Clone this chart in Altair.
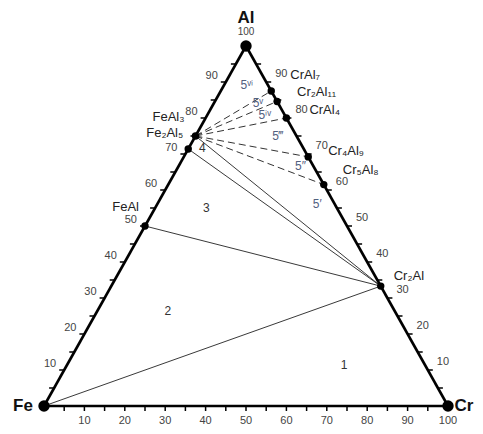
import altair as alt
import pandas as pd

# compositions in at.% (Cr, Al); Fe is the balance
phase_names = ["FeAl", "Fe₂Al₅", "FeAl₃", "CrAl₇", "Cr₂Al₁₁", "CrAl₄", "Cr₄Al₉", "Cr₅Al₈", "Cr₂Al"]
phase_cr = [0.0, 0.0, 0.0, 12.5, 15.4, 20.0, 30.8, 38.5, 66.7]
phase_al = [50.0, 71.4, 75.0, 87.5, 84.6, 80.0, 69.2, 61.5, 33.3]

vertex_names = ["Fe", "Cr", "Al"]
vertex_cr = [0.0, 100.0, 0.0]
vertex_al = [0.0, 0.0, 100.0]

solid_from = ["Fe", "FeAl", "Fe₂Al₅", "FeAl₃"]
solid_to = ["Cr₂Al", "Cr₂Al", "Cr₂Al", "Cr₂Al"]
dashed_from = ["FeAl₃", "FeAl₃", "FeAl₃", "FeAl₃", "FeAl₃"]
dashed_to = ["CrAl₇", "Cr₂Al₁₁", "CrAl₄", "Cr₄Al₉", "Cr₅Al₈"]

region_labels = ["1", "2", "3", "4", "5′", "5″", "5‴", "5ⁱᵛ", "5ᵛ", "5ᵛⁱ"]
region_cr = [68.6, 17.4, 12.7, 3.3, 39.6, 30.2, 20.4, 14.2, 10.8, 5.6]
region_al = [11.3, 26.5, 55.0, 71.8, 56.1, 66.6, 74.9, 80.9, 84.3, 89.2]

tick_values = [5, 10, 15, 20, 25, 30, 35, 40, 45, 50, 55, 60, 65, 70, 75, 80, 85, 90, 95]
side_labels = [10, 20, 30, 40, 50, 60, 70, 80, 90]
bottom_labels = [10, 20, 30, 40, 50, 60, 70, 80, 90, 100]

comp = {n: (c, a) for n, c, a in zip(phase_names + vertex_names,
                                       phase_cr + vertex_cr, phase_al + vertex_al)}

W, H = 404, 360
xs = alt.Scale(domain=[0, 100], nice=False, zero=False)
ys = alt.Scale(domain=[0, 100], nice=False, zero=False)
TX = 5.0 / W * 100   # 5px tick length in x units
TY = 5.0 / H * 100   # 5px tick length in y units


def pos(c="cr", a="al", xn="x", yn="y"):
    return {xn: f"datum.{c} + datum.{a} / 2", yn: f"datum.{a}"}


def X(f="x"):
    return alt.X(f"{f}:Q", scale=xs, axis=None)


def Y(f="y"):
    return alt.Y(f"{f}:Q", scale=ys, axis=None)


def seg_df(froms, tos):
    return pd.DataFrame({
        "cr1": [comp[f][0] for f in froms], "al1": [comp[f][1] for f in froms],
        "cr2": [comp[t][0] for t in tos], "al2": [comp[t][1] for t in tos],
    })


def seg_layer(df, **mk):
    return alt.Chart(df).mark_rule(**mk).transform_calculate(
        x1="datum.cr1 + datum.al1 / 2", y1="datum.al1",
        x2="datum.cr2 + datum.al2 / 2", y2="datum.al2",
    ).encode(x=X("x1"), y=Y("y1"), x2="x2:Q", y2="y2:Q")


edges = seg_df(["Fe", "Cr", "Al"], ["Cr", "Al", "Fe"])
edge_layer = seg_layer(edges, color="black", strokeWidth=2.6)
solid_layer = seg_layer(seg_df(solid_from, solid_to), color="#222", strokeWidth=0.9)
dashed_layer = seg_layer(seg_df(dashed_from, dashed_to), color="#333",
                         strokeWidth=1.0, strokeDash=[7, 4])

# ticks
rows = []
for t in tick_values:
    rows.append({"edge": "bottom", "cr": t, "al": 0})
    rows.append({"edge": "left", "cr": 0, "al": t})
    rows.append({"edge": "right", "cr": 100 - t, "al": t})
ticks = pd.DataFrame(rows)
tick_layer = alt.Chart(ticks).mark_rule(color="black", strokeWidth=1.5).transform_calculate(
    **pos()
).transform_calculate(
    xe=f"datum.edge == 'left' ? datum.x - {TX} : (datum.edge == 'right' ? datum.x + {TX} : datum.x)",
    ye=f"datum.edge == 'bottom' ? datum.y - {TY} : datum.y",
).encode(x=X(), y=Y(), x2="xe:Q", y2="ye:Q")

lab_font = "Liberation Sans"
bottom_df = pd.DataFrame({"cr": bottom_labels, "al": [0] * len(bottom_labels),
                          "t": [str(v) for v in bottom_labels]})
left_df = pd.DataFrame({"cr": [0] * len(side_labels), "al": side_labels,
                        "t": [str(v) for v in side_labels]})
right_df = pd.DataFrame({"cr": [100 - v for v in side_labels], "al": side_labels,
                         "t": [str(v) for v in side_labels]})
top_df = pd.DataFrame({"cr": [0], "al": [100], "t": ["100"]})


def text_layer(df, **mk):
    base = dict(font=lab_font, fontSize=11, color="#444", baseline="middle")
    base.update(mk)
    return alt.Chart(df).mark_text(**base).transform_calculate(**pos()).encode(
        x=X(), y=Y(), text="t:N")


tl_bottom = text_layer(bottom_df, align="center", dy=15)
tl_left = text_layer(left_df, align="right", dx=-8, dy=-6)
tl_right = text_layer(right_df, align="left", dx=9, dy=-8)
tl_top = text_layer(top_df, align="center", dy=-14, fontSize=10)

# points
phase_df = pd.DataFrame({"name": phase_names, "cr": phase_cr, "al": phase_al})
vert_df = pd.DataFrame({"name": vertex_names, "cr": vertex_cr, "al": vertex_al})
phase_pts = alt.Chart(phase_df).mark_circle(size=55, color="black", opacity=1).transform_calculate(
    **pos()).encode(x=X(), y=Y())
vert_pts = alt.Chart(vert_df).mark_circle(size=130, color="black", opacity=1).transform_calculate(
    **pos()).encode(x=X(), y=Y())

# phase labels
phase_offsets = {
    "FeAl": ("right", -6, -19), "Fe₂Al₅": ("right", -5, -16), "FeAl₃": ("right", -11, -19),
    "CrAl₇": ("left", 19, -16), "Cr₂Al₁₁": ("left", 20, -9), "CrAl₄": ("left", 23, -8),
    "Cr₄Al₉": ("left", 20, -6), "Cr₅Al₈": ("left", 19, -15), "Cr₂Al": ("left", 13, -10),
}
phase_label_layers = []
for n in phase_names:
    al_, dx_, dy_ = phase_offsets[n]
    d = pd.DataFrame({"t": [n], "cr": [comp[n][0]], "al": [comp[n][1]]})
    phase_label_layers.append(text_layer(d, align=al_, dx=dx_, dy=dy_, fontSize=13, color="#222"))

vert_offsets = {"Fe": ("center", -21, 0), "Cr": ("center", 16, 0), "Al": ("center", 0, -28)}
vert_label_layers = []
for n in vertex_names:
    al_, dx_, dy_ = vert_offsets[n]
    d = pd.DataFrame({"t": [n], "cr": [comp[n][0]], "al": [comp[n][1]]})
    vert_label_layers.append(text_layer(d, align=al_, dx=dx_, dy=dy_, fontSize=17,
                                        fontWeight="bold", color="#111"))

reg_df = pd.DataFrame({"t": region_labels, "cr": region_cr, "al": region_al})
reg_num = text_layer(reg_df[reg_df.t.str.len() == 1], align="center", fontSize=12, color="#333")
reg_five = text_layer(reg_df[reg_df.t.str.len() > 1], align="center", fontSize=12, color="#52607f")

chart = alt.layer(
    solid_layer, dashed_layer, edge_layer, tick_layer,
    tl_bottom, tl_left, tl_right, tl_top,
    phase_pts, vert_pts, *phase_label_layers, *vert_label_layers, reg_num, reg_five,
).properties(
    width=W, height=H,
    autosize=alt.AutoSizeParams(type="none"),
    padding={"left": 36, "top": 38, "right": 27, "bottom": 20},
    background="white",
).configure_view(stroke=None)

chart.save("out.html", embed_options={"renderer": "svg", "actions": False})
